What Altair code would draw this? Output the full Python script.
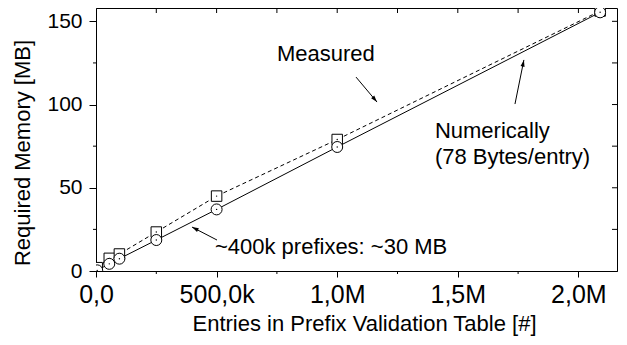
import math
import altair as alt
import pandas as pd

# ---- data ----
entries = [5000, 55000, 97000, 250000, 500000, 1000000, 2090000]
measured_mb = [2.0, 7.6, 10.2, 23.4, 45.0, 79.0, 156.2]
numeric_mb = [0.4, 4.3, 7.4, 18.6, 37.0, 74.5, 155.4]

x_ticks = [0, 500000, 1000000, 1500000, 2000000]
x_tick_labels = ["0,0", "500,0k", "1,0M", "1,5M", "2,0M"]
x_minor = [250000, 750000, 1250000, 1750000]
y_ticks = [0, 50, 100, 150]
y_minor = [25, 75, 125]

texts = ["Measured", "Numerically", "(78 Bytes/entry)", "~400k prefixes: ~30 MB"]
text_x = [750000, 1405000, 1405000, 493000]
text_y = [130.4, 84.1, 68.5, 14.4]

arrow_tail_x = [1078000, 1737000, 501700]
arrow_tail_y = [116.5, 100.3, 18.6]
arrow_tip_x = [1165000, 1774000, 398000]
arrow_tip_y = [101.5, 126.8, 26.4]

# ---- layout ----
W, H = 521, 263
XMAX, YMAX = 2160000, 158
FONT = "Liberation Sans"

xs = alt.Scale(domain=[0, XMAX], nice=False, zero=False)
ys = alt.Scale(domain=[0, YMAX], nice=False, zero=False)

label_expr = " : ".join(
    f"datum.value == {v} ? '{l}'" for v, l in zip(x_ticks, x_tick_labels)
) + " : ''"

df = pd.DataFrame({"entries": entries, "measured": measured_mb, "numeric": numeric_mb})

sx, sy = W / XMAX, H / YMAX
angles = []
for tx, ty, hx, hy in zip(arrow_tail_x, arrow_tail_y, arrow_tip_x, arrow_tip_y):
    dx = (hx - tx) * sx
    dy = -(hy - ty) * sy
    angles.append(math.degrees(math.atan2(dx, -dy)) % 360)
arrows = pd.DataFrame({"x": arrow_tail_x, "y": arrow_tail_y, "x2": arrow_tip_x,
                       "y2": arrow_tip_y, "ang": angles})
ann = pd.DataFrame({"t": texts, "x": text_x, "y": text_y})

x_axis = alt.Axis(values=x_ticks, labelExpr=label_expr, title="Entries in Prefix Validation Table [#]",
                  labelFontSize=25, tickSize=6, labelPadding=5, grid=False,
                  labelFlush=False, labelOverlap=False,
                  titleFontSize=22, titleFontWeight="normal", titleX=268, titleY=59,
                  titleBaseline="alphabetic", titleAlign="center")
y_axis = alt.Axis(values=y_ticks, title="Required Memory [MB]", labelFontSize=21,
                  tickSize=7, labelPadding=7, grid=False,
                  labelFlush=False, labelOverlap=False,
                  titleFontSize=22, titleFontWeight="normal", titleX=-74, titleY=144.5,
                  titleBaseline="middle", titleAlign="center")


def X(f):
    return alt.X(f, scale=xs, axis=x_axis)


def Y(f):
    return alt.Y(f, scale=ys, axis=y_axis)


base = alt.Chart(df)

meas_line = base.mark_line(color="black", strokeWidth=1, strokeDash=[4, 3], clip=True).encode(
    x=X("entries:Q"), y=Y("measured:Q"))
meas_pts = base.mark_point(shape="square", filled=True, fill="white", stroke="black",
                           strokeWidth=1, size=110, opacity=1, clip=True).encode(
    x=X("entries:Q"), y=Y("measured:Q"))
meas_dot = base.mark_point(shape="circle", filled=True, color="black", size=2, opacity=1,
                           clip=True).encode(x=X("entries:Q"), y=Y("measured:Q"))

num_line = base.mark_line(color="black", strokeWidth=1, clip=True).encode(
    x=X("entries:Q"), y=Y("numeric:Q"))
num_pts = base.mark_point(shape="circle", filled=True, fill="white", stroke="black",
                          strokeWidth=1, size=120, opacity=1, clip=True).encode(
    x=X("entries:Q"), y=Y("numeric:Q"))
num_dot = base.mark_point(shape="circle", filled=True, color="black", size=2, opacity=1,
                          clip=True).encode(x=X("entries:Q"), y=Y("numeric:Q"))


# extra ticks (minor / mirrored)
def vticks(vals, y0, y1):
    return alt.Chart(pd.DataFrame({"v": vals})).mark_rule(color="black", strokeWidth=1).encode(
        x=X("v:Q"), y=alt.value(y0), y2=alt.value(y1))


def hticks(vals, x0, x1):
    return alt.Chart(pd.DataFrame({"v": vals})).mark_rule(color="black", strokeWidth=1).encode(
        y=Y("v:Q"), x=alt.value(x0), x2=alt.value(x1))


tick_layers = [
    vticks(x_minor, H, H + 3),
    vticks(x_ticks[1:] + x_minor, 0, 5),
    hticks(y_minor, -3, 0),
    hticks(y_ticks[1:] + y_minor, W, W - 5),
]

arrow_lines = alt.Chart(arrows).mark_rule(color="black", strokeWidth=1).encode(
    x=X("x:Q"), y=Y("y:Q"), x2="x2:Q", y2="y2:Q")
arrow_heads = alt.Chart(arrows).mark_point(
    shape="M0,0L-0.3,1L0.3,1Z", filled=True, color="black", size=180, opacity=1).encode(
    x=X("x2:Q"), y=Y("y2:Q"), angle=alt.Angle("ang:Q", scale=None))

labels = alt.Chart(ann).mark_text(align="left", baseline="middle", font=FONT, fontSize=22,
                                  color="black").encode(
    x=X("x:Q"), y=Y("y:Q"), text="t:N")

chart = alt.layer(
    meas_line, meas_pts, meas_dot, num_line, num_pts, num_dot,
    *tick_layers, arrow_lines, arrow_heads, labels,
).properties(
    width=W, height=H,
    padding={"left": 88, "top": 0, "right": 1, "bottom": 66},
    autosize=alt.AutoSizeParams(type="none"),
    background="white",
).configure_view(
    stroke="black", strokeWidth=1
).configure_axis(
    labelFont=FONT, titleFont=FONT, labelColor="black", titleColor="black",
    domainColor="black", tickColor="black", domainWidth=1, tickWidth=1,
)

chart.save("out.html", embed_options={"renderer": "svg", "actions": False})
